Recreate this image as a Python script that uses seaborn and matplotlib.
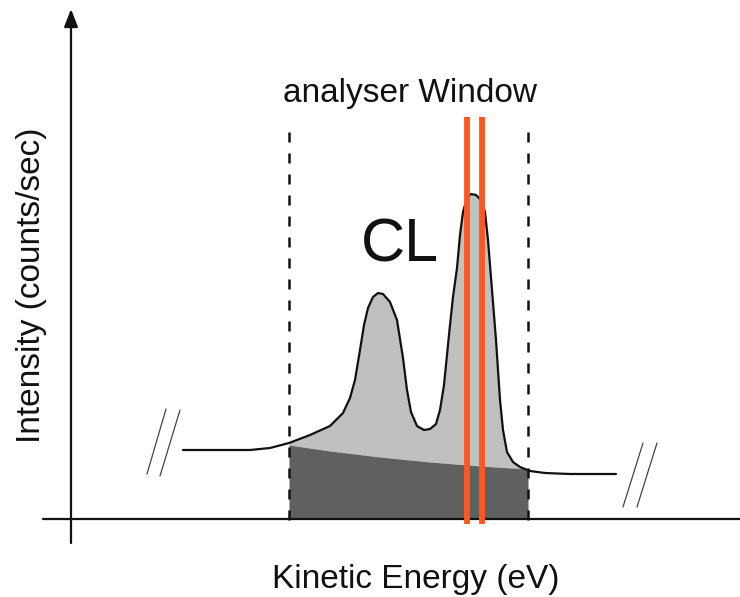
import numpy as np
import pandas as pd
import matplotlib
matplotlib.use("Agg")
import matplotlib.pyplot as plt
import seaborn as sns

# Spectrum curve (kinetic energy position, intensity in picture units; y grows downward)
curve_x = [183, 250, 270, 289, 310, 330, 343, 350, 355, 360, 364, 368, 373, 378, 383, 390,
           397, 403, 407, 411, 417, 424, 430, 436, 440, 444, 447, 450, 453, 457, 460, 463,
           467, 471, 476, 481, 485, 488, 492, 496, 500, 503, 507, 513, 520, 530, 545, 570, 616]
curve_y = [450, 450, 448, 443, 435, 426, 413, 398, 380, 350, 325, 308, 297, 293, 294, 302,
           320, 358, 390, 412, 426, 430, 429, 424, 410, 385, 355, 325, 297, 268, 235, 212,
           198, 194, 195, 200, 212, 240, 290, 340, 400, 430, 452, 462, 467, 471, 473, 474, 474]

# Background (dark region top boundary)
bg_x = [289, 330, 380, 430, 480, 528]
bg_y = [445, 451, 457, 462, 466, 469]

window_x = [289, 528]
slit_x = [467, 482]
axis_y = 519

sns.set_theme(style="white")
plt.rcParams['font.family'] = ['Liberation Sans', 'DejaVu Sans']

fig = plt.figure(figsize=(7.40, 5.97), dpi=100)
ax = fig.add_axes([0, 0, 1, 1])
ax.set_xlim(0, 740)
ax.set_ylim(597, 0)
ax.axis("off")

cx = np.array(curve_x, float)
cy = np.array(curve_y, float)
bx = np.array(bg_x, float)
by = np.array(bg_y, float)

# window region fills
mask = (cx >= window_x[0]) & (cx <= window_x[1])
wx = np.concatenate([[window_x[0]], cx[mask], [window_x[1]]])
wy_curve = np.interp(wx, cx, cy)
wy_bg = np.interp(wx, bx, by)
ax.fill_between(wx, wy_bg, wy_curve, color="#c0c0c0", lw=0, zorder=1)
ax.fill_between(bx, by, axis_y, color="#606060", lw=0, zorder=1)

df = pd.DataFrame({"x": curve_x, "y": curve_y})
sns.lineplot(data=df, x="x", y="y", ax=ax, color="#111111", lw=1.6, sort=False, zorder=3)

# axes
ax.plot([43, 740], [axis_y, axis_y], color="#111111", lw=1.6, zorder=2)
ax.annotate("", xy=(71, 9), xytext=(71, 543),
            arrowprops=dict(arrowstyle="-|>,head_length=0.9,head_width=0.35",
                            color="#111111", lw=1.6, shrinkA=0, shrinkB=0))

# analyser window dashed lines
for xv in window_x:
    ax.plot([xv, xv], [132, 530], color="#111111", lw=1.8, ls=(0, (4.0, 4.4)), zorder=4)

# slit lines
for xv in slit_x:
    ax.plot([xv, xv], [117, 524], color="#ff5722", lw=4.2, zorder=5, solid_capstyle="butt")

# break marks
for (x0, y0, x1, y1) in [(147, 474, 166, 409), (160, 476, 180, 410),
                         (623, 507, 643, 443), (637, 507, 657, 443)]:
    ax.plot([x0, x1], [y0, y1], color="#444444", lw=0.9, zorder=2)

ax.text(410, 102, "analyser Window", ha="center", va="baseline", fontsize=24, color="#111111")
ax.text(400, 262, "CL", ha="center", va="baseline", fontsize=44, color="#111111")
ax.text(416, 588, "Kinetic Energy (eV)", ha="center", va="baseline", fontsize=24, color="#111111")
ax.text(32, 285, "Intensity (counts/sec)", ha="center", va="center", rotation=90,
        fontsize=24, color="#111111")

fig.savefig("out.png", dpi=100)
